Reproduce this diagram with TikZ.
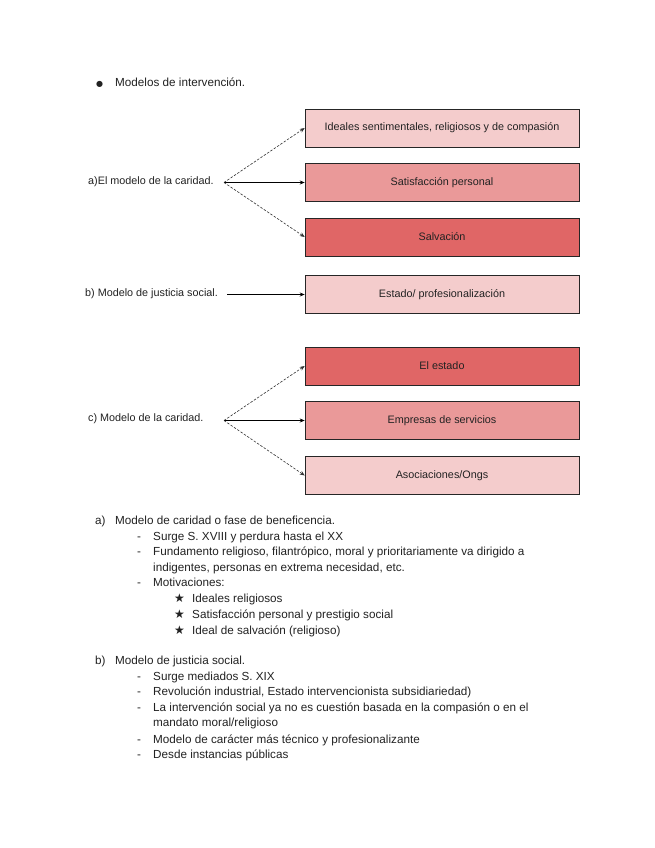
\documentclass[tikz,border=0pt]{standalone}
\usepackage{fontspec}
\setmainfont{Liberation Sans}
\newfontfamily\symfont{DejaVu Sans}
\usetikzlibrary{arrows.meta}
\definecolor{lightred}{HTML}{F4CCCC}
\definecolor{midred}{HTML}{EA9999}
\definecolor{darkred}{HTML}{E06666}
\definecolor{txt}{HTML}{222222}
\begin{document}
\begin{tikzpicture}[x=1pt,y=-1pt,
  box/.style={draw=black!85, line width=0.6pt, minimum width=274pt, minimum height=38pt, inner sep=0pt, font=\fontsize{10.8}{12}\selectfont, text=txt},
  lbl/.style={anchor=west, inner sep=0pt, text height=8pt, text depth=2.5pt, font=\fontsize{10.8}{12}\selectfont, text=txt},
  body/.style={anchor=west, inner sep=0pt, text height=8.5pt, text depth=2.5pt, font=\fontsize{11.7}{13}\selectfont, text=txt},
  solidarr/.style={-{Stealth[length=5pt,width=4pt]}, line width=0.7pt, black},
  dasharr/.style={-{Stealth[length=5pt,width=4pt]}, line width=0.6pt, black!80, dashed, dash pattern=on 2.5pt off 1.5pt},
]
\useasboundingbox (0,0) rectangle (655,848);
\fill[white] (0,0) rectangle (655,848);

% heading
\node[body] (bul) at (96,84) {\symfont\fontsize{8}{9}\selectfont ●};
\node[body] (head) at (115,84) {Modelos de intervención.};

% diagram a
\node[box, fill=lightred] (a1) at (442,128) {Ideales sentimentales, religiosos y de compasión};
\node[box, fill=midred] (a2) at (442,182.5) {Satisfacción personal};
\node[box, fill=darkred] (a3) at (442,237) {Salvación};
\node[lbl] (la) at (88,182) {a)El modelo de la caridad.};
\coordinate (sa) at (224,182.5);
\draw[dasharr] (sa) -- (a1.west);
\draw[solidarr] (sa) -- (a2.west);
\draw[dasharr] (sa) -- (a3.west);

% diagram b
\node[box, fill=lightred] (b1) at (442,294.5) {Estado/ profesionalización};
\node[lbl] (lb) at (85,294) {b) Modelo de justicia social.};
\coordinate (sb) at (227,294.5);
\draw[solidarr] (sb) -- (b1.west);

% diagram c
\node[box, fill=darkred] (c1) at (442,366) {El estado};
\node[box, fill=midred] (c2) at (442,420.5) {Empresas de servicios};
\node[box, fill=lightred] (c3) at (442,475.5) {Asociaciones/Ongs};
\node[lbl] (lc) at (88,419) {c) Modelo de la caridad.};
\coordinate (sc) at (224,420.5);
\draw[dasharr] (sc) -- (c1.west);
\draw[solidarr] (sc) -- (c2.west);
\draw[dasharr] (sc) -- (c3.west);

% text a
\node[body] (ta) at (95,521) {a)};
\node[body] (ta0) at (115,521) {Modelo de caridad o fase de beneficencia.};
\node[body] (da1) at (137,537) {-};
\node[body] (ta1) at (153,537) {Surge S. XVIII y perdura hasta el XX};
\node[body] (da2) at (137,552) {-};
\node[body] (ta2) at (153,552) {Fundamento religioso, filantrópico, moral y prioritariamente va dirigido a};
\node[body] (ta2b) at (153,568) {indigentes, personas en extrema necesidad, etc.};
\node[body] (da3) at (137,583) {-};
\node[body] (ta3) at (153,583) {Motivaciones:};
\node[body] (sa1) at (174,599) {\symfont\fontsize{12}{13}\selectfont ★};
\node[body] (tsa1) at (192,599) {Ideales religiosos};
\node[body] (sa2) at (174,615) {\symfont\fontsize{12}{13}\selectfont ★};
\node[body] (tsa2) at (192,615) {Satisfacción personal y prestigio social};
\node[body] (sa3) at (174,631) {\symfont\fontsize{12}{13}\selectfont ★};
\node[body] (tsa3) at (192,631) {Ideal de salvación (religioso)};

% text b
\node[body] (tb) at (95,661) {b)};
\node[body] (tb0) at (115,661) {Modelo de justicia social.};
\node[body] (db1) at (137,677) {-};
\node[body] (tb1) at (153,677) {Surge mediados S. XIX};
\node[body] (db2) at (137,692) {-};
\node[body] (tb2) at (153,692) {Revolución industrial, Estado intervencionista subsidiariedad)};
\node[body] (db3) at (137,708) {-};
\node[body] (tb3) at (153,708) {La intervención social ya no es cuestión basada en la compasión o en el};
\node[body] (tb3b) at (153,723) {mandato moral/religioso};
\node[body] (db4) at (137,740) {-};
\node[body] (tb4) at (153,740) {Modelo de carácter más técnico y profesionalizante};
\node[body] (db5) at (137,755) {-};
\node[body] (tb5) at (153,755) {Desde instancias públicas};
\end{tikzpicture}
\end{document}
